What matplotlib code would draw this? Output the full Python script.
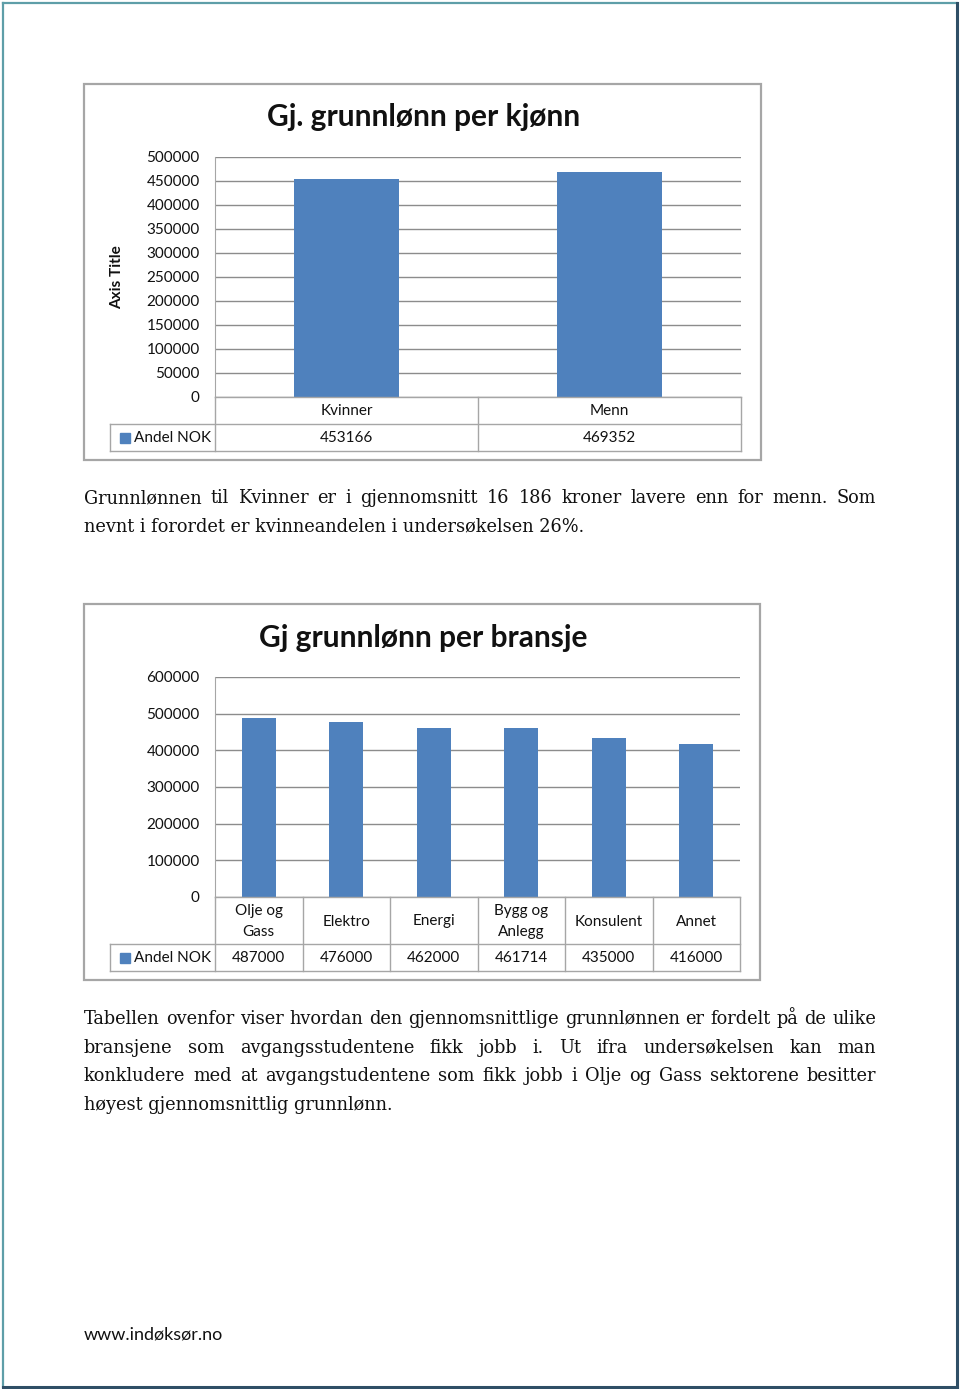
import matplotlib; matplotlib.use("Agg")
import matplotlib.pyplot as plt
from matplotlib.lines import Line2D
from matplotlib.patches import Rectangle

# data
kjonn_cats = ["Kvinner", "Menn"]
kjonn_vals = [453166, 469352]
bransje_cats = ["Olje og\nGass", "Elektro", "Energi", "Bygg og\nAnlegg", "Konsulent", "Annet"]
bransje_vals = [487000, 476000, 462000, 461714, 435000, 416000]
series_name = "Andel NOK"
title1 = "Gj. grunnlønn per kjønn"
title2 = "Gj grunnlønn per bransje"
para1 = ("Grunnlønnen til Kvinner er i gjennomsnitt 16 186 kroner lavere enn for menn. Som",
         "nevnt i forordet er kvinneandelen i undersøkelsen 26%.")
para2 = ("Tabellen ovenfor viser hvordan den gjennomsnittlige grunnlønnen er fordelt på de ulike",
         "bransjene som avgangsstudentene fikk jobb i. Ut ifra undersøkelsen kan man",
         "konkludere med at avgangstudentene som fikk jobb i Olje og Gass sektorene besitter",
         "høyest gjennomsnittlig grunnlønn.")
footer = "www.indøksør.no"

W, H = 960, 1389
BLUE = "#4F81BD"; GRID = "#8C8C8C"; FRAME = "#A6A6A6"; TXT = "#111111"
SANS = "Lato"; SERIF = "DejaVu Serif"

fig = plt.figure(figsize=(W/100, H/100), dpi=100)
fig.patch.set_facecolor("white")
fx = lambda x: x / W
fy = lambda y: 1 - y / H

def line(x0, y0, x1, y1, c=FRAME, lw=1.0):
    fig.add_artist(Line2D([fx(x0), fx(x1)], [fy(y0), fy(y1)], color=c, lw=lw))

def txt(x, y, s, **kw):
    kw.setdefault("family", SANS); kw.setdefault("color", TXT)
    return fig.text(fx(x), fy(y), s, **kw)

# page border
line(3, 3, 957, 3, "#5E9EA8", 1.6); line(3, 3, 3, 1387, "#5E9EA8", 1.6)
line(957, 3, 957, 1387, "#2F4F66", 2.2); line(3, 1387, 957, 1387, "#2F4F66", 2.2)

def chart(box, plot, title, ty, cats, vals, ymax, ystep, barw, row1_h, axis_title=None):
    bx0, by0, bx1, by1 = box
    px0, py0, px1, py1 = plot
    fig.add_artist(Rectangle((fx(bx0), fy(by1)), fx(bx1 - bx0), (by1 - by0) / H,
                             fill=False, ec=FRAME, lw=1.6))
    txt((bx0 + bx1) / 2 + 1, ty, title, fontsize=21.5, weight="bold", ha="center", va="center")
    ax = fig.add_axes([fx(px0), fy(py1), fx(px1 - px0), (py1 - py0) / H])
    n = len(cats)
    ax.bar(range(n), vals, width=barw, color=BLUE, zorder=3)
    ax.set_xlim(-0.5, n - 0.5); ax.set_ylim(0, ymax)
    ax.set_yticks(range(0, ymax + 1, ystep))
    ax.set_yticklabels([str(v) for v in range(0, ymax + 1, ystep)], family=SANS, fontsize=11, color=TXT)
    ax.tick_params(axis="y", length=0, pad=11)
    ax.set_xticks([])
    ax.grid(axis="y", color=GRID, lw=1.0, zorder=0)
    for s in ["top", "right", "bottom"]:
        ax.spines[s].set_visible(False)
    ax.spines["left"].set_color(FRAME)
    ax.patch.set_alpha(0)
    if axis_title:
        txt(117, (py0 + py1) / 2, axis_title, fontsize=11, weight="bold", rotation=90,
            ha="center", va="center")
    # data table
    r0 = py1; r1 = r0 + row1_h; r2 = r1 + 27
    cw = (px1 - px0) / n
    line(px0, r0, px1, r0); line(110, r1, px1, r1); line(110, r2, px1, r2)
    line(110, r1, 110, r2)
    for k in range(n + 1):
        line(px0 + k * cw, r0, px0 + k * cw, r2)
    for k, (c, v) in enumerate(zip(cats, vals)):
        cx = px0 + (k + 0.5) * cw
        txt(cx, (r0 + r1) / 2 + 1, c, fontsize=11, ha="center", va="center", linespacing=1.55)
        txt(cx, (r1 + r2) / 2 + 1, str(v), fontsize=11, ha="center", va="center")
    fig.add_artist(Rectangle((fx(120), fy((r1 + r2) / 2 + 5)), fx(10), 10 / H, color=BLUE))
    txt(134, (r1 + r2) / 2 + 1, series_name, fontsize=11, ha="left", va="center")

chart((84, 84, 761, 460), (215, 157, 741, 397), title1, 117, kjonn_cats, kjonn_vals,
      500000, 50000, 0.4, 27, "Axis Title")
chart((84, 604, 760, 980), (215, 677, 740, 897), title2, 638, bransje_cats, bransje_vals,
      600000, 100000, 0.39, 47)

# justified body text
renderer = fig.canvas.get_renderer()
def paragraph(lines, y0, x0=84, x1=876, step=28.7, size=12.8):
    for i, ln in enumerate(lines):
        y = y0 + i * step
        if i == len(lines) - 1:
            txt(x0, y, ln, family=SERIF, fontsize=size, ha="left", va="baseline")
            continue
        words = ln.split(" ")
        ts = [txt(x0, y, w, family=SERIF, fontsize=size, ha="left", va="baseline") for w in words]
        ws = [t.get_window_extent(renderer).width for t in ts]
        gap = (x1 - x0 - sum(ws)) / (len(words) - 1)
        x = x0
        for t, w in zip(ts, ws):
            t.set_x(fx(x)); x += w + gap

paragraph(para1, 503)
paragraph(para2, 1024)
txt(84, 1339, footer, fontsize=13, ha="left", va="baseline")

fig.savefig("out.png", dpi=100, facecolor="white")
